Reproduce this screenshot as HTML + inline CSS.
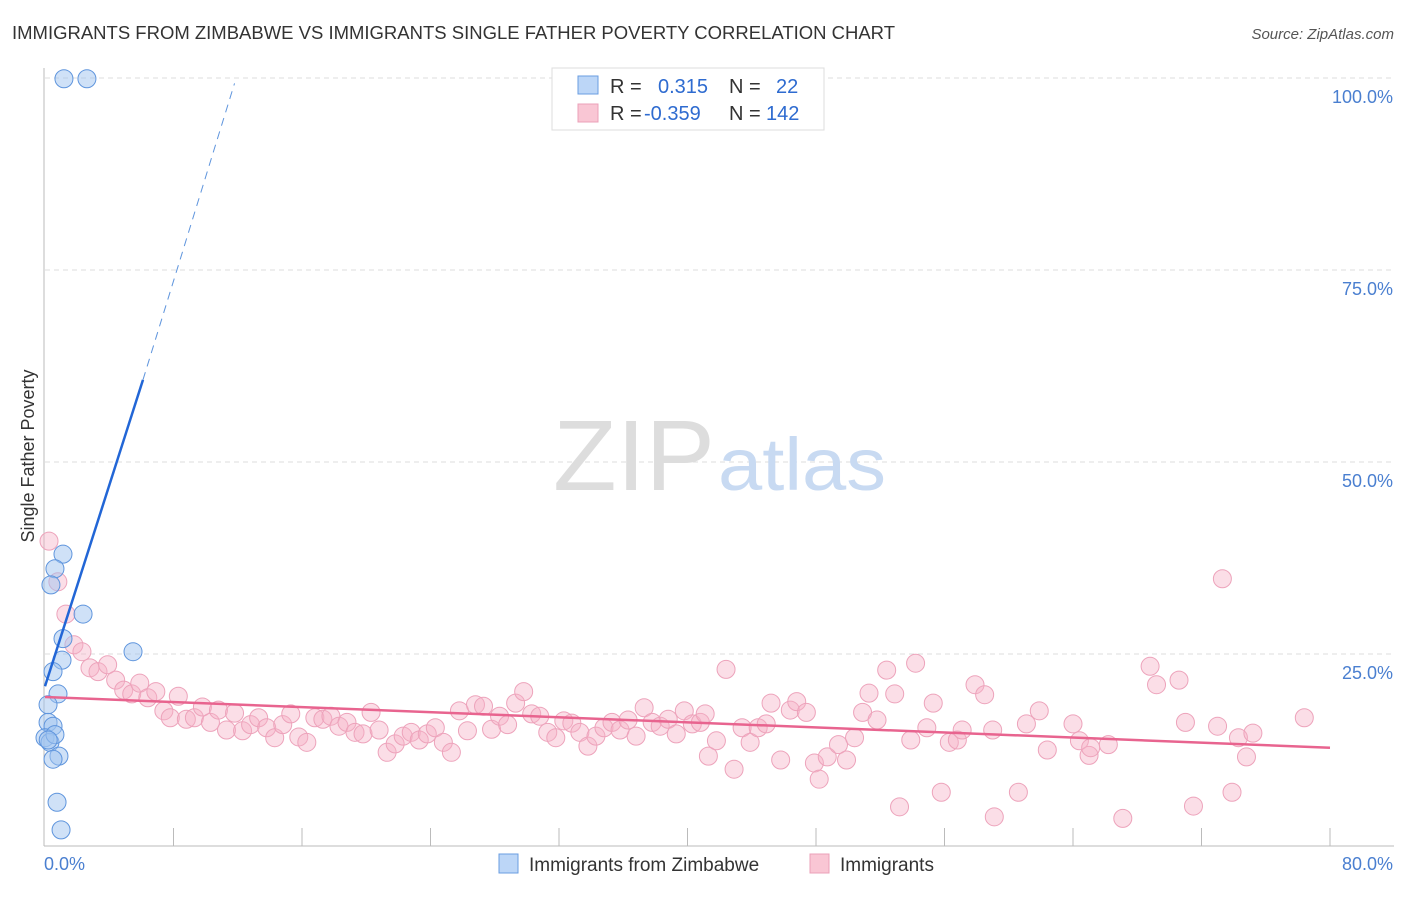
<!DOCTYPE html>
<html><head><meta charset="utf-8"><style>
body{margin:0;background:#fff;font-family:"Liberation Sans",sans-serif}
svg text{font-family:"Liberation Sans",sans-serif}
</style></head><body>
<svg width="1406" height="892" viewBox="0 0 1406 892">
<text x="12" y="39" font-size="18" fill="#333" textLength="883" lengthAdjust="spacingAndGlyphs">IMMIGRANTS FROM ZIMBABWE VS IMMIGRANTS SINGLE FATHER POVERTY CORRELATION CHART</text>
<text x="1394" y="39" font-size="15" fill="#555" text-anchor="end" font-style="italic">Source: ZipAtlas.com</text>
<g id="grid"></g>
<g>
<text x="553" y="490" font-size="100" font-family="Liberation Serif" fill="#ddd" textLength="162" lengthAdjust="spacingAndGlyphs">ZIP</text>
<text x="718" y="490" font-size="74" fill="#c8daf2" textLength="168" lengthAdjust="spacingAndGlyphs">atlas</text>
</g>
<line x1="44" y1="68" x2="44" y2="846" stroke="#bbb"/>
<line x1="44" y1="846" x2="1394" y2="846" stroke="#bbb"/>
<g id="xticks"></g>
<g id="yticks"></g>
<text x="44" y="870" font-size="18" fill="#4a7fd0">0.0%</text>
<text x="1393" y="870" font-size="18" fill="#4a7fd0" text-anchor="end">80.0%</text>
<text transform="translate(34,456) rotate(-90)" font-size="18" fill="#333" text-anchor="middle">Single Father Poverty</text>
<g id="pink"></g>
<g id="blue"></g>
<g id="trends"></g>
<g>
<rect x="552" y="68" width="272" height="62" fill="#fff" stroke="#ddd"/>
<rect x="578" y="76" width="20" height="18" fill="#bcd6f7" stroke="#6a9de0"/>
<rect x="578" y="104" width="20" height="18" fill="#f9c6d4" stroke="#eba0b8"/>
<text x="610" y="93" font-size="20" fill="#333">R =</text>
<text x="658" y="93" font-size="20" fill="#2e6bd0">0.315</text>
<text x="729" y="93" font-size="20" fill="#333">N =</text>
<text x="776" y="93" font-size="20" fill="#2e6bd0">22</text>
<text x="610" y="120" font-size="20" fill="#333">R =</text>
<text x="644" y="120" font-size="20" fill="#2e6bd0">-0.359</text>
<text x="729" y="120" font-size="20" fill="#333">N =</text>
<text x="766" y="120" font-size="20" fill="#2e6bd0">142</text>
</g>
<g>
<rect x="499" y="854" width="19" height="19" fill="#bcd6f7" stroke="#6a9de0"/>
<text x="529" y="871" font-size="19" fill="#333">Immigrants from Zimbabwe</text>
<rect x="810" y="854" width="19" height="19" fill="#f9c6d4" stroke="#eba0b8"/>
<text x="840" y="871" font-size="19" fill="#333">Immigrants</text>
</g>
</svg>
<script>
const yTicks=[25,50,75,100];
const yTickLabels=["25.0%","50.0%","75.0%","100.0%"];
const xTicks=[8,16,24,32,40,48,56,64,72,80];
const blueX=[1.18,2.61,1.12,0.62,0.37,2.37,1.12,5.48,1.06,0.5,0.81,0.19,0.19,0.5,0.0,0.31,0.62,0.2,0.87,0.5,0.75,1.0];
const blueY=[99.9,99.9,38.0,36.1,34.0,30.2,27.0,25.3,24.2,22.7,19.8,18.4,16.1,15.6,14.1,13.5,14.5,13.8,11.7,11.3,5.7,2.1];
const pinkX=[0.25,0.8,1.3,1.8,2.3,2.8,3.3,3.9,4.4,4.9,5.4,5.9,6.4,6.9,7.4,7.8,8.3,8.8,9.3,9.8,10.3,10.8,11.3,11.8,12.3,12.8,13.3,13.8,14.3,14.8,15.3,15.8,16.3,16.8,17.3,17.8,18.3,18.8,19.3,19.8,20.3,20.8,21.3,21.8,22.3,22.8,23.3,23.8,24.3,24.8,25.3,25.8,26.3,26.8,27.3,27.8,28.3,28.8,29.3,29.8,30.3,30.8,31.3,31.8,32.3,32.8,33.3,33.8,34.3,34.8,35.3,35.8,36.3,36.8,37.3,37.8,38.3,38.8,39.3,39.8,40.3,40.8,41.3,41.8,42.4,42.9,43.4,43.9,44.4,44.9,45.2,45.8,46.4,46.8,47.4,47.9,48.2,48.7,49.4,49.9,50.4,50.9,51.3,51.8,52.4,52.9,53.9,54.2,54.9,55.3,55.8,56.3,56.8,57.1,57.9,58.5,59.0,59.1,60.6,61.1,61.9,62.4,64.0,64.4,65.0,65.1,66.2,67.1,68.8,69.2,70.6,71.0,71.5,73.0,73.3,73.9,74.3,74.8,75.2,78.4,53.2,41.1];
const pinkY=[39.7,34.4,30.2,26.2,25.3,23.2,22.7,23.6,21.6,20.3,19.8,21.2,19.3,20.1,17.6,16.7,19.5,16.5,16.7,18.1,16.1,17.7,15.1,17.3,15.0,15.8,16.7,15.4,14.1,15.8,17.2,14.2,13.5,16.7,16.5,16.9,15.6,16.1,14.8,14.6,17.4,15.1,12.2,13.3,14.3,14.8,13.8,14.6,15.4,13.5,12.2,17.6,15.0,18.4,18.2,15.2,16.9,15.8,18.6,20.1,17.2,16.9,14.8,14.1,16.3,16.0,14.8,13.0,14.3,15.4,16.1,15.1,16.4,14.3,18.0,16.1,15.6,16.5,14.6,17.6,15.9,16.1,11.7,13.7,23.0,10.0,15.4,13.5,15.4,15.9,18.6,11.2,17.7,18.8,17.4,10.8,8.7,11.6,13.2,11.2,14.1,17.4,19.9,16.4,22.9,19.8,13.8,23.8,15.4,18.6,7.0,13.5,13.8,15.1,21.0,19.7,15.1,3.8,7.0,15.9,17.6,12.5,15.9,13.7,11.8,12.8,13.2,3.6,23.4,21.0,21.6,16.1,5.2,15.6,34.8,7.0,14.1,11.6,14.7,16.7,5.1,17.2];
const blueTrend=[[0,20.8],[6.1,60.7],[11.8,99.3]];
const pinkTrend=[[0,19.4],[80,12.8]];
const NS='http://www.w3.org/2000/svg';
const xs=v=>45+v/80*1285, ys=v=>846-v/100*768;
function mk(tag,attrs,parent){const e=document.createElementNS(NS,tag);for(const k in attrs)e.setAttribute(k,attrs[k]);document.getElementById(parent).appendChild(e);return e;}
yTicks.forEach((t,i)=>{
 const g=mk('line',{x1:45,x2:1394,y1:ys(t),y2:ys(t),stroke:'#ddd','stroke-dasharray':'5,4'},'grid');
 
 
 const l=mk('text',{x:1393,y:ys(t)+25,'font-size':18,fill:'#4a7fd0','text-anchor':'end'},'yticks');
 l.textContent=yTickLabels[i];
 
 
});
xTicks.forEach(t=>{
 const l=mk('line',{x1:xs(t),x2:xs(t),y1:828,y2:846,stroke:'#bbb'},'xticks');
 
 
});
pinkX.forEach((x,i)=>{
 const c=mk('circle',{cx:xs(x),cy:ys(pinkY[i]),r:9,fill:'rgba(246,176,198,0.42)',stroke:'#eda3bb','stroke-width':1},'pink');
 
 
});
blueX.forEach((x,i)=>{
 const c=mk('circle',{cx:xs(x),cy:ys(blueY[i]),r:9,fill:'rgba(160,196,240,0.5)',stroke:'#5f95dd','stroke-width':1},'blue');
 
 
});
let t1=mk('line',{x1:xs(blueTrend[0][0]),y1:ys(blueTrend[0][1]),x2:xs(blueTrend[1][0]),y2:ys(blueTrend[1][1]),stroke:'#2266d6','stroke-width':2.5},'trends');


let t2=mk('line',{x1:xs(blueTrend[1][0]),y1:ys(blueTrend[1][1]),x2:xs(blueTrend[2][0]),y2:ys(blueTrend[2][1]),stroke:'#5f95dd','stroke-width':1,'stroke-dasharray':'8,6'},'trends');


let t3=mk('line',{x1:xs(pinkTrend[0][0]),y1:ys(pinkTrend[0][1]),x2:xs(pinkTrend[1][0]),y2:ys(pinkTrend[1][1]),stroke:'#e8648f','stroke-width':2.5},'trends');


</script>
</body></html>
